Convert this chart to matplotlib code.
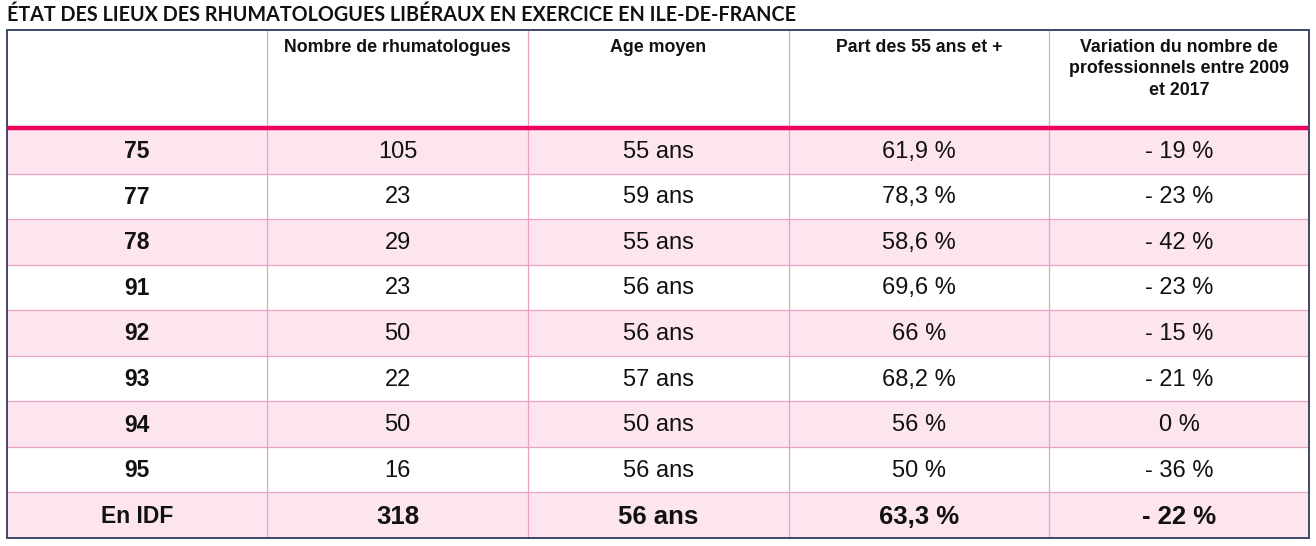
import matplotlib
matplotlib.use("Agg")
import matplotlib.pyplot as plt
from matplotlib.patches import Rectangle

title = "ÉTAT DES LIEUX DES RHUMATOLOGUES LIBÉRAUX EN EXERCICE EN ILE-DE-FRANCE"
headers = ["", "Nombre de rhumatologues", "Age moyen", "Part des 55 ans et +",
           "Variation du nombre de\nprofessionnels entre 2009\net 2017"]
departements = ["75", "77", "78", "91", "92", "93", "94", "95", "En IDF"]
nombre = ["105", "23", "29", "23", "50", "22", "50", "16", "318"]
age_moyen = ["55 ans", "59 ans", "55 ans", "56 ans", "56 ans", "57 ans", "50 ans", "56 ans", "56 ans"]
part_55 = ["61,9 %", "78,3 %", "58,6 %", "69,6 %", "66 %", "68,2 %", "56 %", "50 %", "63,3 %"]
variation = ["- 19 %", "- 23 %", "- 42 %", "- 23 %", "- 15 %", "- 21 %", "0 %", "- 36 %", "- 22 %"]

W, H = 1316, 546
fig = plt.figure(figsize=(W / 100, H / 100), dpi=100)
ax = fig.add_axes([0, 0, 1, 1])
ax.set_xlim(0, W)
ax.set_ylim(H, 0)
ax.axis("off")

pink_fill = "#fde5f0"
pink_line = "#e8a0c4"
accent = "#f0005e"
border = "#3d4868"
txt = "#111111"
font = ["Liberation Sans", "DejaVu Sans"]

col_x = [7, 267, 528, 789, 1049, 1309]
top, head_bot, bottom = 30, 128, 538
n = len(departements)
rh = (bottom - head_bot) / n

# row backgrounds
for i in range(n):
    y0 = head_bot + i * rh
    if i % 2 == 0:
        ax.add_patch(Rectangle((col_x[0], y0), col_x[-1] - col_x[0], rh,
                               facecolor=pink_fill, edgecolor="none", zorder=0))

# horizontal row lines
for i in range(1, n):
    y = head_bot + i * rh
    ax.plot([col_x[0], col_x[-1]], [y, y], color=pink_line, lw=0.9, zorder=1)

# vertical lines
for x in col_x[1:-1]:
    ax.plot([x, x], [top, bottom], color=pink_line, lw=0.9, zorder=1)

# thick accent line under header
ax.plot([col_x[0], col_x[-1]], [head_bot, head_bot], color=accent, lw=3.2,
        solid_capstyle="butt", zorder=2)

# outer border
ax.add_patch(Rectangle((col_x[0], top), col_x[-1] - col_x[0], bottom - top,
                       facecolor="none", edgecolor=border, lw=1.4, zorder=3))

# title
ax.text(7, 15, title, fontsize=14.2, fontweight="bold", family=["Lato", "DejaVu Sans"],
        color="#111111", ha="left", va="center")

# headers
for j, h in enumerate(headers):
    cx = (col_x[j] + col_x[j + 1]) / 2
    ax.text(cx, 39, h, fontsize=12.8, fontweight="bold", family=font, color=txt,
            ha="center", va="top", multialignment="center", linespacing=1.33)

# body
columns = [departements, nombre, age_moyen, part_55, variation]
for i in range(n):
    cy = head_bot + (i + 0.5) * rh + 1
    last = i == n - 1
    for j, col in enumerate(columns):
        cx = (col_x[j] + col_x[j + 1]) / 2
        if last and j > 0:
            ax.text(cx, cy + 1, col[i], fontsize=18.5, fontweight="bold",
                    family=font, color=txt, ha="center", va="center")
        elif j == 0:
            ax.text(cx, cy, col[i], fontsize=16.5, fontweight="bold",
                    family=font, color=txt, ha="center", va="center")
        else:
            ax.text(cx, cy, col[i], fontsize=17, fontweight="normal",
                    family=font, color=txt, ha="center", va="center")

fig.savefig("out.png", dpi=100, facecolor="white")
